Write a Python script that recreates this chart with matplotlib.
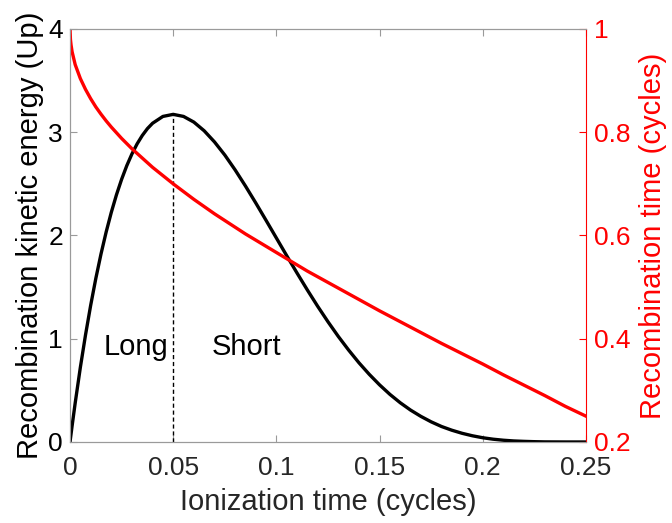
import matplotlib.pyplot as plt

plt.rcParams['font.family'] = ['Liberation Sans', 'DejaVu Sans']

# ionization time (cycles)
t_ion = [0, 0.0002, 0.0005, 0.001, 0.0025, 0.005, 0.0075, 0.01, 0.0125, 0.015,
         0.0175, 0.02, 0.0225, 0.025, 0.0275, 0.03, 0.0325, 0.035, 0.0375, 0.04,
         0.045, 0.05, 0.055, 0.06, 0.065, 0.07, 0.075, 0.08, 0.085, 0.09, 0.095,
         0.10, 0.105, 0.11, 0.115, 0.12, 0.125, 0.13, 0.135, 0.14, 0.145, 0.15,
         0.155, 0.16, 0.165, 0.17, 0.175, 0.18, 0.185, 0.19, 0.195, 0.20, 0.205,
         0.21, 0.215, 0.22, 0.225, 0.23, 0.24, 0.25]
# recombination kinetic energy (Up)
energy = [0, 0.032, 0.078, 0.155, 0.377, 0.722, 1.036, 1.323, 1.584, 1.820,
          2.033, 2.224, 2.394, 2.544, 2.676, 2.790, 2.887, 2.968, 3.035, 3.087,
          3.153, 3.173, 3.153, 3.098, 3.014, 2.906, 2.779, 2.635, 2.479, 2.315, 2.146,
          1.975, 1.804, 1.636, 1.472, 1.314, 1.164, 1.022, 0.890, 0.767, 0.655, 0.553,
          0.461, 0.380, 0.309, 0.248, 0.195, 0.150, 0.114, 0.084, 0.060, 0.041, 0.027,
          0.017, 0.010, 0.006, 0.003, 0.001, 0.0001, 0]
# recombination time (cycles)
t_rec = [1.0, 0.980, 0.969, 0.956, 0.931, 0.904, 0.883, 0.865, 0.849, 0.835,
         0.822, 0.810, 0.799, 0.788, 0.778, 0.768, 0.759, 0.750, 0.741, 0.732,
         0.716, 0.700, 0.685, 0.670, 0.656, 0.642, 0.629, 0.616, 0.603, 0.591, 0.579,
         0.567, 0.555, 0.543, 0.531, 0.520, 0.509, 0.498, 0.487, 0.476, 0.465, 0.454,
         0.4435, 0.433, 0.4225, 0.412, 0.4015, 0.391, 0.381, 0.371, 0.361, 0.351, 0.3405,
         0.330, 0.320, 0.310, 0.300, 0.290, 0.269, 0.250]

t_peak = 0.05
e_peak = 3.173

fig = plt.figure(figsize=(6.72, 5.23), dpi=100)
ax = fig.add_axes([0.1042, 0.1549, 0.7678, 0.7897])
ax2 = ax.twinx()

ax.plot(t_ion, energy, color='black', lw=2.4, zorder=3)
ax.plot([t_peak, t_peak], [0, e_peak], color='black', lw=1, ls=(0, (3, 2)))
ax2.plot(t_ion, t_rec, color='red', lw=2.4)

ax.text(0.032, 0.92, 'Long', fontsize=21, ha='center', va='center')
ax.text(0.0855, 0.92, 'Short', fontsize=21, ha='center', va='center')

ax.set_xlim(0, 0.25)
ax.set_ylim(0, 4)
ax2.set_ylim(0.2, 1)
ax.set_xticks([0, 0.05, 0.1, 0.15, 0.2, 0.25])
ax.set_xticklabels(['0', '0.05', '0.1', '0.15', '0.2', '0.25'])
ax.set_yticks([0, 1, 2, 3, 4])
ax2.set_yticks([0.2, 0.4, 0.6, 0.8, 1.0])
ax2.set_yticklabels(['0.2', '0.4', '0.6', '0.8', '1'])

gray = '#9a9a9a'
for s in ['left', 'top', 'bottom']:
    ax.spines[s].set_color(gray)
    ax2.spines[s].set_color(gray)
ax.spines['right'].set_visible(False)
ax2.spines['right'].set_color('red')

ax.tick_params(axis='x', direction='in', length=5, color=gray, labelcolor='#262626',
               labelsize=19, top=True, pad=10)
ax.tick_params(axis='y', direction='in', length=5, color=gray, labelcolor='black',
               labelsize=19, pad=5)
ax2.tick_params(axis='y', direction='in', length=5, color='red', labelcolor='red',
                labelsize=19, pad=6)

ax.set_xlabel('Ionization time (cycles)', fontsize=21, color='#262626', labelpad=6)
ax.set_ylabel('Recombination kinetic energy (Up)', fontsize=21, color='black', labelpad=3)
ax2.set_ylabel('Recombination time (cycles)', fontsize=21, color='red', labelpad=6)

fig.savefig('out.png', dpi=100)
